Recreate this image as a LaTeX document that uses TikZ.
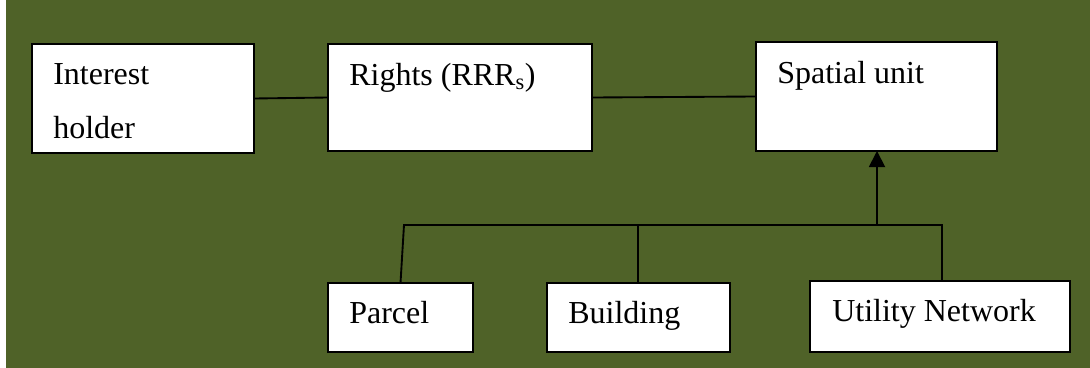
\documentclass[tikz,border=0pt]{standalone}
\usepackage{fontspec}
\setmainfont{Liberation Serif}
\usetikzlibrary{arrows.meta}
\definecolor{olivebg}{HTML}{4F6228}
\begin{document}
\begin{tikzpicture}[x=0.75pt,y=-0.75pt,
  box/.style={draw=black,fill=white,line width=1.5pt,inner sep=0pt,outer sep=0pt,anchor=north west},
  lbl/.style={anchor=base west,inner sep=0pt,font=\fontsize{24}{28}\selectfont},
  conn/.style={draw=black,line width=1.4pt}]
\useasboundingbox (0,0) rectangle (1090,368);
\fill[white] (0,0) rectangle (1090,368);
\fill[olivebg] (6,0) rectangle (1090,368);
% boxes
\node[box,minimum width=166.5pt,minimum height=81.75pt] (ih) at (32,44) {};
\node[box,minimum width=198pt,minimum height=80.25pt] (rights) at (328,44) {};
\node[box,minimum width=180.75pt,minimum height=81.75pt] (su) at (756,42) {};
\node[box,minimum width=108.75pt,minimum height=51.75pt] (parcel) at (328,283) {};
\node[box,minimum width=137.25pt,minimum height=51.75pt] (building) at (547,283) {};
\node[box,minimum width=195pt,minimum height=53.25pt] (utility) at (810,281) {};
% texts
\node[lbl] (t1) at (53,84) {Interest};
\node[lbl] (t2) at (53,138) {holder};
\node[lbl] (t3) at (349,85) {Rights (RRR\textsubscript{s})};
\node[lbl] (t4) at (777,83) {Spatial unit};
\node[lbl] (t5) at (349,323) {Parcel};
\node[lbl] (t6) at (568,323) {Building};
\node[lbl] (t7) at (832,321) {Utility Network};
% connectors
\draw[conn] (ih.east) -- (rights.west);
\draw[conn] (rights.east) -- (su.west);
\coordinate (bl) at (404,225);
\coordinate (br) at (942,225);
\coordinate (j) at (877,225);
\coordinate (bj) at (638,225);
\draw[conn] (parcel.north) -- (bl) -- (br) -- (br |- utility.north);
\draw[conn] (bj) -- (bj |- building.north);
\draw[conn,-{Triangle[width=12pt,length=12pt]}] (j) -- (j |- su.south);
\end{tikzpicture}
\end{document}
